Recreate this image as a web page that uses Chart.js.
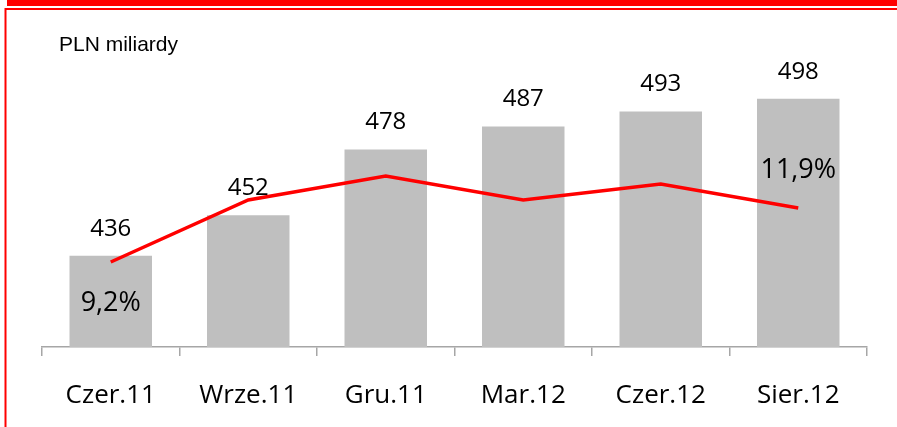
<!DOCTYPE html>
<html>
<head>
<meta charset="utf-8">
<script src="https://cdn.jsdelivr.net/npm/chart.js@4/dist/chart.umd.min.js"></script>
<style>
  html, body { margin: 0; padding: 0; background: #fff; }
  #wrap { position: relative; width: 897px; height: 427px; }
</style>
</head>
<body>
<div id="wrap"><canvas id="myChart" width="897" height="427"></canvas></div>
<script>
var categories = ['Czer.11', 'Wrze.11', 'Gru.11', 'Mar.12', 'Czer.12', 'Sier.12'];
var assets = [436, 452, 478, 487, 493, 498];          // PLN miliardy
var growth = [9.2, 12.3, 13.5, 12.3, 13.1, 11.9];     // %
var growthShown = [true, false, false, false, false, true];

// frame + unit text + labels
var decor = {
  id: 'decor',
  beforeDraw: function (chart) {
    var c = chart.ctx;
    c.save();
    c.fillStyle = '#ff0000';
    c.fillRect(7, 0, 890, 6);
    c.fillRect(4, 8, 893, 2);
    c.fillStyle = '#ff8080';
    c.fillRect(4, 8, 1, 419);
    c.fillStyle = '#ff0000';
    c.fillRect(5, 8, 1.5, 419);
    c.fillStyle = '#000';
    c.font = '21px "Liberation Sans", Arial, sans-serif';
    c.textBaseline = 'middle';
    c.textAlign = 'left';
    c.fillText('PLN miliardy', 59, 45);
    c.restore();
  },
  afterDatasetsDraw: function (chart) {
    var c = chart.ctx;
    c.save();
    c.fillStyle = '#000';
    c.textAlign = 'center';
    c.textBaseline = 'middle';
    c.font = '24px "Open Sans", sans-serif';
    chart.getDatasetMeta(1).data.forEach(function (bar, i) {
      c.fillText(assets[i], bar.x, bar.y - 27);
    });
    c.font = '27px "Open Sans", sans-serif';
    chart.getDatasetMeta(0).data.forEach(function (pt, i) {
      if (!growthShown[i]) return;
      var txt = growth[i].toFixed(1).replace('.', ',') + '%';
      var dy = i === 0 ? 41 : -38;
      c.fillText(txt, pt.x, pt.y + dy);
    });
    c.restore();
  }
};

new Chart(document.getElementById('myChart'), {
  data: {
    labels: categories,
    datasets: [{
      type: 'line',
      label: 'Dynamika',
      data: growth,
      yAxisID: 'y1',
      borderColor: '#ff0000',
      borderWidth: 3.5,
      pointRadius: 0,
      tension: 0,
      order: 0
    }, {
      type: 'bar',
      label: 'Aktywa',
      data: assets,
      yAxisID: 'y',
      backgroundColor: '#bfbfbf',
      barPercentage: 0.6,
      categoryPercentage: 1,
      order: 1
    }]
  },
  options: {
    responsive: false,
    animation: false,
    layout: { padding: { top: 43, left: 42, right: 30, bottom: 0 } },
    plugins: {
      legend: { display: false },
      tooltip: { enabled: false }
    },
    scales: {
      x: {
        offset: true,
        grid: { offset: true, drawOnChartArea: false, tickLength: 9, color: '#a6a6a6', lineWidth: 1.5 },
        border: { display: true, color: '#a6a6a6', width: 1.5 },
        ticks: { color: '#000', padding: 24, font: { family: 'Open Sans', size: 26 }, maxRotation: 0 },
        afterFit: function (s) { s.height = 80; }
      },
      y: { display: false, min: 400, max: 520 },
      y1: { display: false, min: 4.95, max: 20.15 }
    }
  },
  plugins: [decor]
});
</script>
</body>
</html>
